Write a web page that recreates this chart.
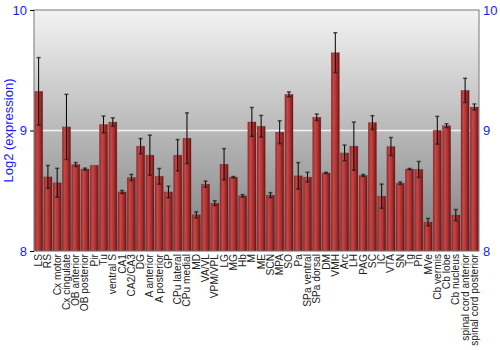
<!DOCTYPE html>
<html>
<head>
<meta charset="utf-8">
<script src="https://cdn.jsdelivr.net/npm/d3@7"></script>
<style>
  body { margin: 0; background: #fff; }
  text { font-family: 'Liberation Sans', Arial, sans-serif; }
</style>
</head>
<body>
<div id="chart"></div>
<script>
let regions = [
  'LS', 'RS', 'Cx motor', 'Cx cingulate', 'OB anterior', 'OB posterior', 'Pir', 'Tu',
  'ventral S', 'CA1', 'CA2/CA3', 'DG', 'A anterior', 'A posterior', 'GP', 'CPu lateral',
  'CPu medial', 'MD', 'VA/VL', 'VPM/VPL', 'LG', 'MG', 'Hb', 'M', 'ME', 'SCN', 'MPA', 'SO',
  'Pa', 'SPa ventral', 'SPa dorsal', 'DM', 'VMH', 'Arc', 'LH', 'PAG', 'SC', 'IC', 'VTA',
  'SN', 'Tg', 'Pn', 'MVe', 'Cb vermis', 'Cb lobe', 'Cb nucleus', 'spinal cord anterior',
  'spinal cord posterior'
]

let expression = [
  9.325, 8.615, 8.566, 9.03, 8.718, 8.68, 8.712, 9.05,
  9.07, 8.49, 8.61, 8.87, 8.795, 8.62, 8.49, 8.795,
  8.936, 8.30, 8.555, 8.397, 8.72, 8.613, 8.458, 9.071, 9.035, 8.464, 8.986, 9.30,
  8.624, 8.613, 9.11, 8.648, 9.646, 8.814, 8.87, 8.627, 9.066, 8.455, 8.867,
  8.563, 8.68, 8.677, 8.24, 9.002, 9.04, 8.298, 9.333,
  9.195
]

let errors = [
  0.28, 0.095, 0.12, 0.27, 0.016, 0.008, 0.002, 0.07,
  0.035, 0.012, 0.025, 0.063, 0.166, 0.065, 0.047, 0.13,
  0.21, 0.025, 0.025, 0.02, 0.13, 0.005, 0.01, 0.12, 0.09, 0.02, 0.095, 0.02,
  0.11, 0.04, 0.027, 0.005, 0.165, 0.065, 0.2, 0.008, 0.057, 0.1, 0.075,
  0.01, 0.005, 0.066, 0.03, 0.115, 0.016, 0.046, 0.1,
  0.025
]

let yTicks = [8, 9, 10]

let datapoints = regions.map((name, i) => ({
  name: name,
  value: expression[i],
  err: errors[i]
}))

let width = 500
let height = 350
let margin = { top: 10, left: 34, right: 21, bottom: 99 }

let svg = d3
  .select('#chart')
  .append('svg')
  .attr('width', width)
  .attr('height', height)

let xPositionScale = d3
  .scaleBand()
  .domain(regions)
  .range([margin.left, width - margin.right])
  .paddingInner(0.12)
  .paddingOuter(0.06)

let yPositionScale = d3
  .scaleLinear()
  .domain([8, 10])
  .range([height - margin.bottom, margin.top])

let defs = svg.append('defs')

let bg = defs
  .append('linearGradient')
  .attr('id', 'bg-grad')
  .attr('x1', 0)
  .attr('y1', 0)
  .attr('x2', 0)
  .attr('y2', 1)
bg.append('stop').attr('offset', '0%').attr('stop-color', '#f3f3f3')
bg.append('stop').attr('offset', '100%').attr('stop-color', '#7e7e7e')

let barGrad = defs
  .append('linearGradient')
  .attr('id', 'bar-grad')
  .attr('x1', 0)
  .attr('y1', 0)
  .attr('x2', 1)
  .attr('y2', 0)
barGrad.append('stop').attr('offset', '0%').attr('stop-color', '#9a2626')
barGrad.append('stop').attr('offset', '30%').attr('stop-color', '#c64848')
barGrad.append('stop').attr('offset', '65%').attr('stop-color', '#a83030')
barGrad.append('stop').attr('offset', '100%').attr('stop-color', '#6e1212')

let plotLeft = margin.left
let plotRight = width - margin.right
let plotTop = margin.top
let plotBottom = height - margin.bottom

// plot background
svg
  .append('rect')
  .attr('x', plotLeft)
  .attr('y', plotTop)
  .attr('width', plotRight - plotLeft)
  .attr('height', plotBottom - plotTop)
  .attr('fill', 'url(#bg-grad)')

// grid line at 9
svg
  .selectAll('.grid')
  .data(yTicks.filter(d => d > 8 && d < 10))
  .enter()
  .append('line')
  .attr('class', 'grid')
  .attr('x1', plotLeft)
  .attr('x2', plotRight)
  .attr('y1', d => yPositionScale(d))
  .attr('y2', d => yPositionScale(d))
  .attr('stroke', '#f4f4f4')
  .attr('stroke-width', 1.5)

// bars
svg
  .selectAll('.bar')
  .data(datapoints)
  .enter()
  .append('rect')
  .attr('class', 'bar')
  .attr('x', d => xPositionScale(d.name))
  .attr('width', xPositionScale.bandwidth())
  .attr('y', d => yPositionScale(d.value))
  .attr('height', d => yPositionScale(8) - yPositionScale(d.value))
  .attr('fill', 'url(#bar-grad)')
  .attr('stroke', 'rgba(90,20,20,0.35)')
  .attr('stroke-width', 0.6)

// error bars
let errG = svg
  .selectAll('.err')
  .data(datapoints.filter(d => d.err > 0.003))
  .enter()
  .append('g')
  .attr('class', 'err')
  .attr('transform', d => {
    let cx = xPositionScale(d.name) + xPositionScale.bandwidth() / 2
    return `translate(${cx},0)`
  })

errG
  .append('line')
  .attr('y1', d => yPositionScale(d.value + d.err))
  .attr('y2', d => yPositionScale(d.value - d.err))
  .attr('stroke', '#000')
  .attr('stroke-width', 1)

errG
  .selectAll('.cap')
  .data(d => [d.value + d.err, d.value - d.err])
  .enter()
  .append('line')
  .attr('x1', -2)
  .attr('x2', 2)
  .attr('y1', d => yPositionScale(d))
  .attr('y2', d => yPositionScale(d))
  .attr('stroke', 'rgba(30,30,30,0.75)')
  .attr('stroke-width', 1.5)

// frame
svg
  .append('rect')
  .attr('x', plotLeft)
  .attr('y', plotTop)
  .attr('width', plotRight - plotLeft)
  .attr('height', plotBottom - plotTop)
  .attr('fill', 'none')
  .attr('stroke', '#777')
  .attr('stroke-width', 1)

// left axis
let leftAxis = d3
  .axisLeft(yPositionScale)
  .tickValues(yTicks)
  .tickSize(4)
  .tickFormat(d3.format('d'))

svg
  .append('g')
  .attr('class', 'axis left')
  .attr('transform', `translate(${plotLeft},0)`)
  .call(leftAxis)
  .call(g => g.select('.domain').remove())
  .call(g => g.selectAll('.tick line').attr('stroke', '#000'))
  .call(g =>
    g
      .selectAll('.tick text')
      .attr('fill', '#1a1aff')
      .attr('font-size', 13)
      .attr('font-family', 'Liberation Sans, Arial, sans-serif')
  )

let rightAxis = d3
  .axisRight(yPositionScale)
  .tickValues(yTicks)
  .tickSize(0)
  .tickPadding(4)
  .tickFormat(d3.format('d'))

svg
  .append('g')
  .attr('class', 'axis right')
  .attr('transform', `translate(${plotRight},0)`)
  .call(rightAxis)
  .call(g => g.select('.domain').remove())
  .call(g =>
    g
      .selectAll('.tick text')
      .attr('fill', '#1a1aff')
      .attr('font-size', 13)
      .attr('font-family', 'Liberation Sans, Arial, sans-serif')
  )

// axis title
svg
  .append('text')
  .text('Log2 (expression)')
  .attr('transform', `translate(13,${(plotTop + plotBottom) / 2}) rotate(-90)`)
  .attr('text-anchor', 'middle')
  .attr('font-size', 13)
  .attr('fill', '#1a1aff')

// category labels
svg
  .selectAll('.cat-label')
  .data(regions)
  .enter()
  .append('text')
  .attr('class', 'cat-label')
  .text(d => d)
  .attr('font-size', 10.2)
  .attr('fill', '#222')
  .attr('text-anchor', 'end')
  .attr('transform', d => {
    let cx = xPositionScale(d) + xPositionScale.bandwidth() / 2 + 3.5
    return `translate(${cx},${plotBottom + 3}) rotate(-90)`
  })
</script>
</body>
</html>
